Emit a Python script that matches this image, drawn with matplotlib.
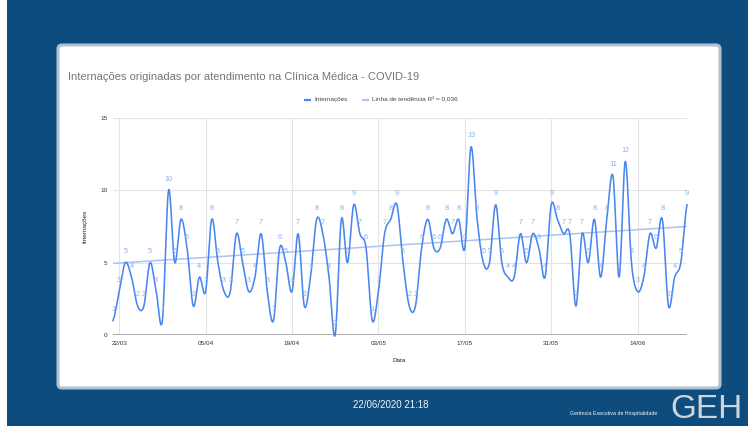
import numpy as np
import pandas as pd
import matplotlib
matplotlib.use('Agg')
import matplotlib.pyplot as plt
from matplotlib.patches import FancyBboxPatch, Rectangle

plt.rcParams['font.family'] = ['Liberation Sans', 'DejaVu Sans']

# Internações diárias, a partir de 21/03/2020
internacoes = [1, 3, 5, 4, 2, 2, 5, 3, 1, 10,
               5, 8, 6, 2, 4, 3, 8, 5, 3, 3,
               7, 5, 3, 4, 7, 3, 1, 6, 5, 3,
               7, 2, 4, 8, 7, 4, 0, 8, 5, 9,
               7, 6, 1, 3, 7, 8, 9, 5, 2, 2,
               6, 8, 6, 6, 8, 7, 8, 6, 13, 8,
               5, 5, 9, 5, 4, 4, 7, 5, 7, 6,
               4, 9, 8, 7, 7, 2, 7, 5, 8, 4,
               8, 11, 4, 12, 5, 3, 4, 7, 6, 8,
               2, 4, 5, 9]
data_inicio = '2020-03-21'
primeiro_tick = '2020-03-22'
# linha de tendência (início e fim)
tendencia = [4.95, 7.5]
r2_texto = '0,036'
y_ticks = [0, 5, 10, 15]

titulo = 'Internações originadas por atendimento na Clínica Médica - COVID-19'
rodape_data = '22/06/2020 21:18'
rodape_org = 'Gerência Executiva de Hospitalidade'

# cores
fundo = '#0e4c7e'
azul = '#4a86f0'
azul_claro = '#a9c3f5'
azul_rotulo = '#86aef5'

W, H = 748, 426


def catmull_rom(y, n=14):
    y = np.asarray(y, float)
    p = np.concatenate([[y[0]], y, [y[-1]]])
    t = np.linspace(0, 1, n, endpoint=False)
    h00 = 2 * t**3 - 3 * t**2 + 1
    h10 = t**3 - 2 * t**2 + t
    h01 = -2 * t**3 + 3 * t**2
    h11 = t**3 - t**2
    xs, ys = [], []
    for i in range(len(y) - 1):
        p0, p1, p2, p3 = p[i], p[i + 1], p[i + 2], p[i + 3]
        m1 = (p2 - p0) / 2
        m2 = (p3 - p1) / 2
        ys.append(h00 * p1 + h10 * m1 + h01 * p2 + h11 * m2)
        xs.append(i + t)
    xs.append([len(y) - 1])
    ys.append([y[-1]])
    return np.concatenate(xs), np.concatenate(ys)


datas = pd.date_range(data_inicio, periods=len(internacoes))
x = np.arange(len(internacoes))
y = np.array(internacoes, float)

fig = plt.figure(figsize=(W / 100, H / 100), dpi=100)
fig.patch.set_facecolor(fundo)

# camada de fundo em pixels
bg = fig.add_axes([0, 0, 1, 1])
bg.set_xlim(0, W)
bg.set_ylim(H, 0)
bg.axis('off')
bg.add_patch(Rectangle((0, 0), 7, H, facecolor='white', edgecolor='none'))
bg.add_patch(FancyBboxPatch((58, 45), 662, 343, boxstyle='round,pad=0,rounding_size=4',
                            facecolor='white', edgecolor='#aec2d3', linewidth=2.2))

bg.text(68, 77, titulo, fontsize=8, color='#757575', ha='left', va='center')

# legenda
bg.plot([304, 311], [99.5, 99.5], color=azul, lw=1.6, solid_capstyle='butt')
bg.text(314, 99.5, 'Internações', fontsize=4.6, color='#444444', ha='left', va='center')
bg.plot([362, 369], [99.5, 99.5], color=azul_claro, lw=1.6, solid_capstyle='butt')
bg.text(372, 99.5, 'Linha de tendência R² = ' + r2_texto, fontsize=4.6, color='#444444',
        ha='left', va='center')

bg.text(85, 226, 'Internações', fontsize=4.6, color='#222222', rotation=90,
        ha='center', va='center')
bg.text(399, 361, 'Data', fontsize=4.6, color='#222222', ha='center', va='center')

# rodapé
bg.text(391, 405, rodape_data, fontsize=7, color='#f2f5f8', ha='center', va='center')
bg.text(614, 413, rodape_org, fontsize=3.8, color='#f2f5f8', ha='center', va='center')
bg.text(707, 425, 'GEH', fontsize=24, color='#cdd5dd', ha='center', va='bottom')

# gráfico
ax = fig.add_axes([113 / W, 1 - 335 / H, (687 - 113) / W, (335 - 118) / H])
ax.set_facecolor('white')
ax.set_xlim(0, len(internacoes) - 1)
ax.set_ylim(0, 15)
for s in ax.spines.values():
    s.set_visible(False)

ticks_x = [i for i, d in enumerate(datas) if (d - pd.Timestamp(primeiro_tick)).days % 14 == 0
           and d >= pd.Timestamp(primeiro_tick)]
ax.set_xticks(ticks_x)
ax.set_xticklabels([datas[i].strftime('%d/%m') for i in ticks_x])
ax.set_yticks(y_ticks)
ax.set_yticklabels([str(v) for v in y_ticks])
ax.tick_params(length=0, labelsize=4.6, labelcolor='#333333', pad=4)
ax.grid(True, color='#e3e3e3', lw=0.8)
ax.set_axisbelow(True)
ax.axhline(0, color='#a0a0a0', lw=1.2, zorder=1)

# linha de tendência
ax.plot([x[0], x[-1]], tendencia, color=azul_claro, lw=1.1, zorder=2)

xs, ys = catmull_rom(y)
ax.plot(xs, ys, color=azul, lw=1.15, zorder=3, clip_on=False)

for xi, v in zip(x, internacoes):
    ax.annotate(str(v), (xi, v), xytext=(0, 8), textcoords='offset points',
                ha='center', va='center', fontsize=5.2, color=azul_rotulo, zorder=4,
                annotation_clip=False)

fig.savefig('out.png', dpi=100, facecolor=fig.get_facecolor())
